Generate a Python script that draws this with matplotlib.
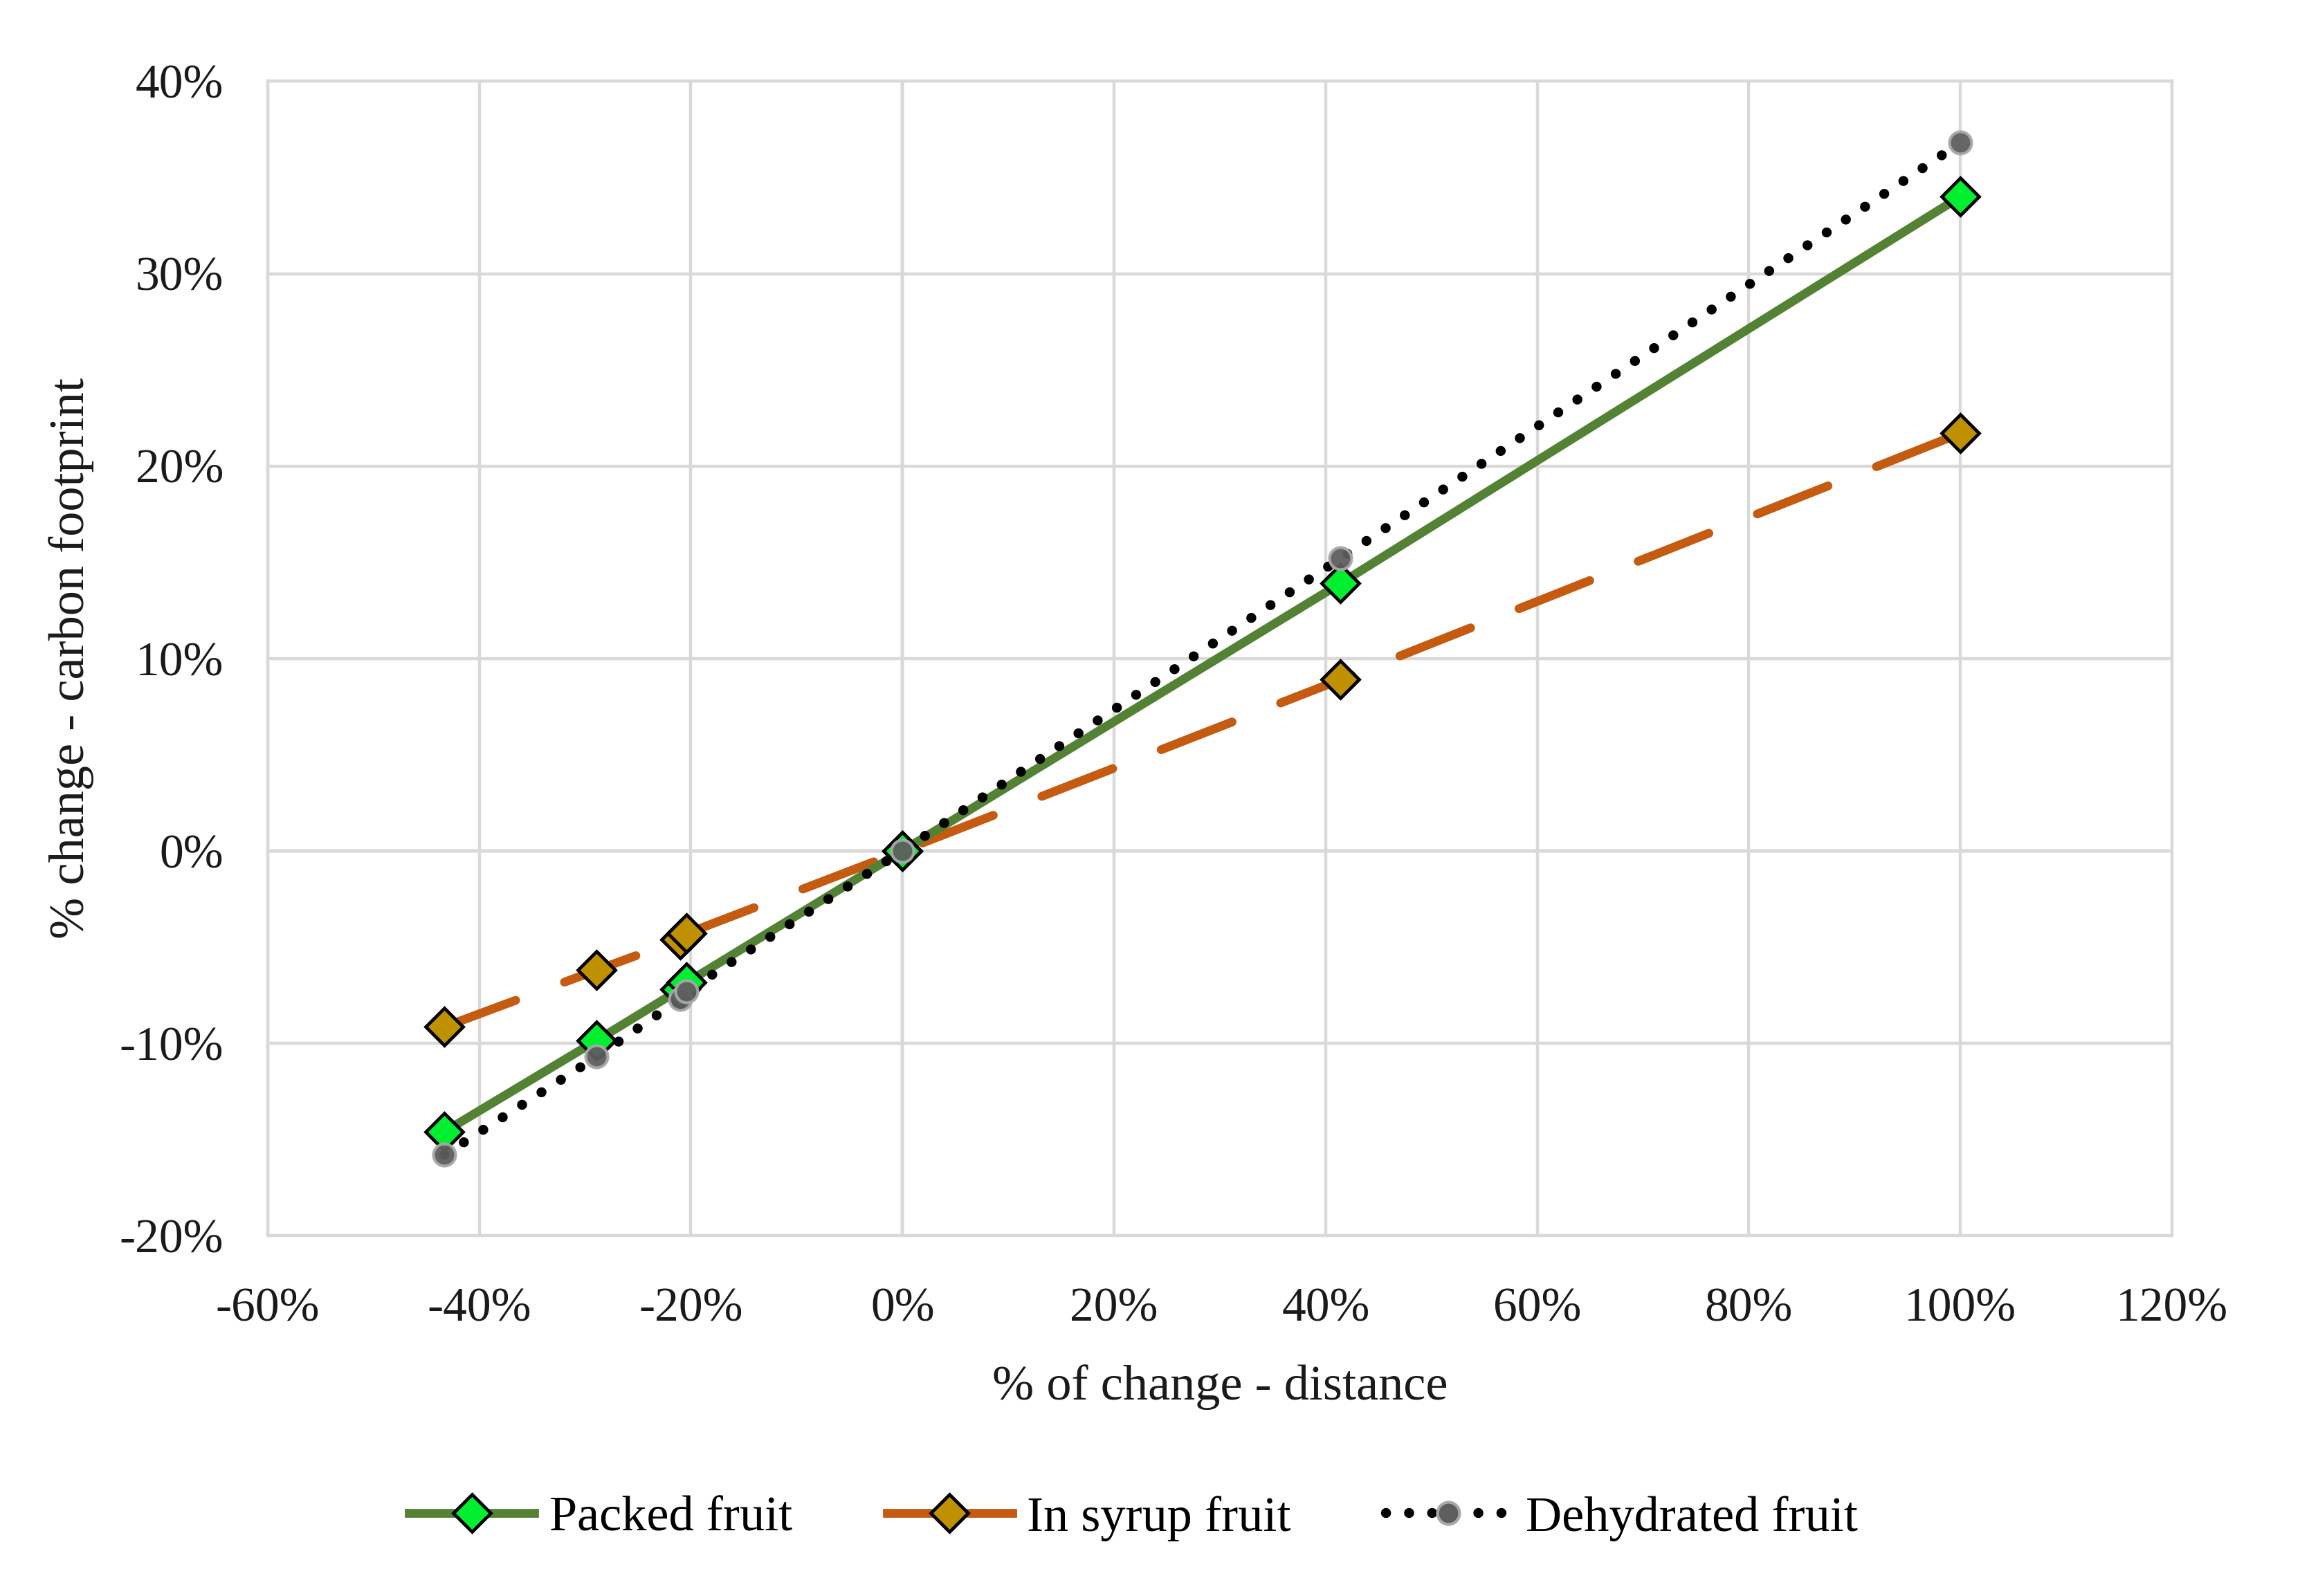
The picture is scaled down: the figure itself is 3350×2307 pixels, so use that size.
import matplotlib
matplotlib.use("Agg")
import matplotlib.pyplot as plt
from matplotlib.ticker import FuncFormatter
from matplotlib.lines import Line2D

# ---- data (fractions of change) ----
distance_change = [-0.433, -0.289, -0.210, -0.204, 0.0, 0.414, 1.00]
packed_fruit    = [-0.146, -0.0985, -0.072, -0.0685, 0.0, 0.139, 0.340]
in_syrup_fruit  = [-0.0915, -0.062, -0.046, -0.043, 0.0, 0.089, 0.217]
dehydrated_fruit = [-0.158, -0.107, -0.077, -0.073, 0.0, 0.152, 0.368]

series_names = ["Packed fruit", "In syrup fruit", "Dehydrated fruit"]
x_ticks = [-0.6, -0.4, -0.2, 0.0, 0.2, 0.4, 0.6, 0.8, 1.0, 1.2]
y_ticks = [-0.2, -0.1, 0.0, 0.1, 0.2, 0.3, 0.4]

plt.rcParams['font.family'] = ['Liberation Serif', 'DejaVu Serif']

DPI = 200
fig = plt.figure(figsize=(3350 / DPI, 2307 / DPI), dpi=DPI)
ax = fig.add_axes([0.1155, 0.2258, 0.8215, 0.7233])

grid_c = "#D9D9D9"
axis_c = "#BFBFBF"
txt_c = "#1a1a1a"

ax.set_xlim(-0.6, 1.2)
ax.set_ylim(-0.2, 0.4)
ax.set_xticks(x_ticks)
ax.set_yticks(y_ticks)
ax.grid(True, color=grid_c, linewidth=1.6, zorder=0)
ax.set_axisbelow(True)
for s in ax.spines.values():
    s.set_color(grid_c)
    s.set_linewidth(1.6)
ax.axhline(0, color=axis_c, linewidth=1.6, zorder=0.5)
ax.axvline(0, color=axis_c, linewidth=1.6, zorder=0.5)
ax.tick_params(length=0, labelsize=25, colors=txt_c)
ax.tick_params(axis="x", pad=27)
ax.tick_params(axis="y", pad=23)
fmt = FuncFormatter(lambda v, p: f"{v*100:.0f}%")
ax.xaxis.set_major_formatter(fmt)
ax.yaxis.set_major_formatter(fmt)

LW = 4.6
DOT_LW = 5.2
DIAM = 13.5
CIRC = 11.5
green_line, green_fill = "#548235", "#00F030"
orange_line, gold_fill = "#C55A11", "#BF9000"
dot_style = (0, (0.01, 2.3))
dash_style = (0, (8.6, 5.9))

# Packed fruit
ax.plot(distance_change, packed_fruit, color=green_line, linewidth=LW,
        solid_capstyle="round", zorder=3)
ax.plot(distance_change, packed_fruit, linestyle="none", marker="D",
        markersize=DIAM, markerfacecolor=green_fill, markeredgecolor="black",
        markeredgewidth=1.7, zorder=6)

# In syrup fruit
ax.plot(distance_change, in_syrup_fruit, color=orange_line, linewidth=LW,
        linestyle=dash_style, dash_capstyle="round", zorder=2)
ax.plot(distance_change, in_syrup_fruit, linestyle="none", marker="D",
        markersize=DIAM, markerfacecolor=gold_fill, markeredgecolor="black",
        markeredgewidth=1.7, zorder=5)

# Dehydrated fruit
ax.plot(distance_change, dehydrated_fruit, color="black", linewidth=DOT_LW,
        linestyle=dot_style, dash_capstyle="round", zorder=4)
ax.plot(distance_change, dehydrated_fruit, linestyle="none", marker="o",
        markersize=CIRC, markerfacecolor="#5E5E5E", markeredgecolor="#A8A8A8",
        markeredgewidth=1.5, alpha=0.95, zorder=7)

ax.set_xlabel("% of change - distance", fontsize=26, labelpad=17, color=txt_c)
ax.set_ylabel("% change - carbon footprint", fontsize=26, labelpad=13, color=txt_c)

handles = [
    Line2D([], [], color=green_line, linewidth=LW, marker="D", markersize=DIAM,
           markerfacecolor=green_fill, markeredgecolor="black", markeredgewidth=1.7),
    Line2D([], [], color=orange_line, linewidth=LW, marker="D", markersize=DIAM,
           markerfacecolor=gold_fill, markeredgecolor="black", markeredgewidth=1.7),
    Line2D([], [], color="black", linewidth=DOT_LW, linestyle=dot_style,
           dash_capstyle="round", marker="o", markersize=CIRC,
           markerfacecolor="#5E5E5E", markeredgecolor="#A8A8A8", markeredgewidth=1.5),
]
fig.legend(handles, series_names, loc="center", bbox_to_anchor=(0.489, 0.0486),
           ncol=3, frameon=False, fontsize=26, handlelength=2.5,
           columnspacing=1.9, handletextpad=0.3)

fig.savefig("out.png", dpi=DPI, facecolor="white")
